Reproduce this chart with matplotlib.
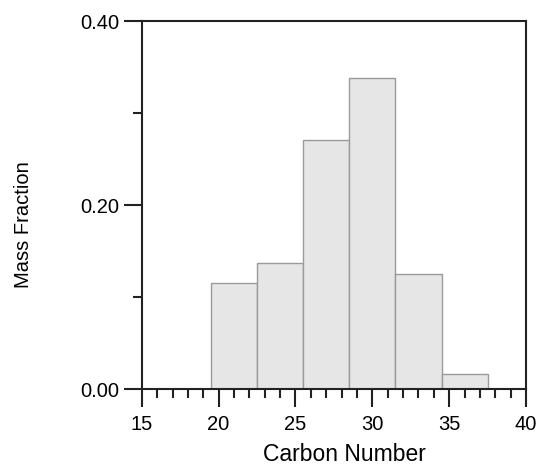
import matplotlib.pyplot as plt
from matplotlib.ticker import MultipleLocator, FormatStrFormatter

plt.rcParams['font.family'] = ['Liberation Sans', 'DejaVu Sans']

# carbon number bins (centres) and mass fraction in each bin
carbon_number = [21, 24, 27, 30, 33, 36]
mass_fraction = [0.115, 0.137, 0.271, 0.338, 0.125, 0.016]
bin_width = 3

fig = plt.figure(figsize=(5.39, 4.65), dpi=100)
ax = fig.add_axes([0.263, 0.1634, 0.713, 0.7914])

ax.bar(carbon_number, mass_fraction, width=bin_width, color='#e6e6e6',
       edgecolor='#9a9a9a', linewidth=1.0)

ax.set_xlim(15, 40)
ax.set_ylim(0, 0.40)
ax.xaxis.set_major_locator(MultipleLocator(5))
ax.xaxis.set_minor_locator(MultipleLocator(1))
ax.yaxis.set_major_locator(MultipleLocator(0.2))
ax.yaxis.set_minor_locator(MultipleLocator(0.1))
ax.yaxis.set_major_formatter(FormatStrFormatter('%.2f'))

for s in ax.spines.values():
    s.set_linewidth(1.5)
    s.set_color('#222222')

ax.tick_params(which='major', direction='out', length=13, width=1.5,
               color='#222222')
ax.tick_params(which='minor', direction='out', length=6.5, width=1.5,
               color='#222222')
ax.tick_params(axis='x', which='major', labelsize=14.5, pad=6)
ax.tick_params(axis='y', which='major', labelsize=14.5, pad=3)
ax.tick_params(top=False, right=False, which='both')

ax.set_xlabel('Carbon Number', fontsize=16.5)
ax.xaxis.set_label_coords(0.528, -0.179)
ax.xaxis.label.set_va('center')
ax.set_ylabel('Mass Fraction', fontsize=14.5)
ax.yaxis.set_label_coords(-0.309, 0.448)
ax.yaxis.label.set_va('center')

fig.savefig('out.png', dpi=100)
